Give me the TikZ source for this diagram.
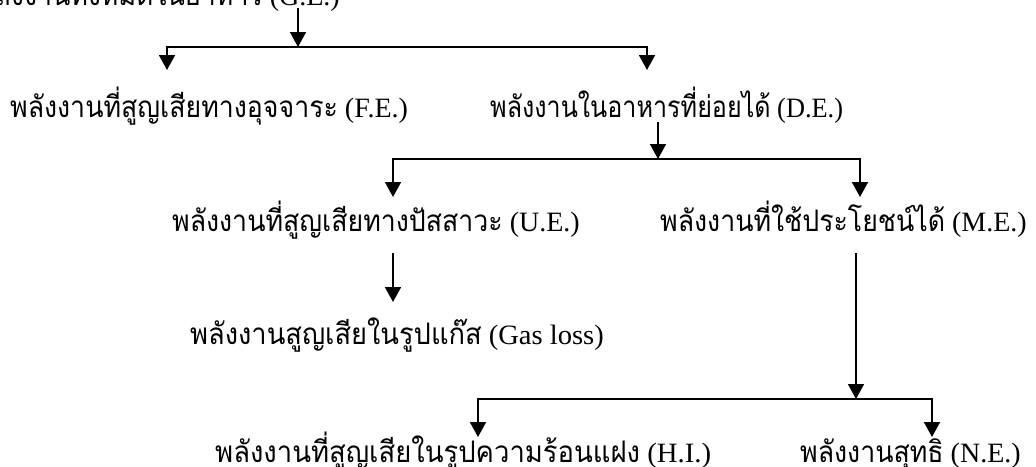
\documentclass[tikz,border=0pt]{standalone}
\usepackage{fontspec}
\setmainfont{Liberation Serif}
\newfontfamily\thaifont[Script=Thai,Scale=1.06,FakeStretch=0.9]{Loma}
\usetikzlibrary{arrows.meta}
\newcommand{\thx}[1]{{\thaifont #1}}
\tikzset{
  lbl/.style={inner sep=0pt, font=\fontsize{28}{32}\selectfont},
  conn/.style={line width=1.8pt, -{Triangle[width=16pt,length=15pt]}},
  plain/.style={line width=1.8pt}
}
\begin{document}
\begin{tikzpicture}[x=1pt,y=-1pt]
\useasboundingbox (0,0) rectangle (1036,466);
\node[lbl, anchor=base east] (GE) at (340,5) {\thx{พลังงานทั้งหมดในอาหาร} (G.E.)};
\node[lbl, anchor=base west] (FE) at (10,117) {\thx{พลังงานที่สูญเสียทางอุจจาระ} (F.E.)};
\node[lbl, anchor=base west] (DE) at (490,117) {\scalebox{0.94}[1]{\thx{พลังงานในอาหารที่ย่อยได้} (D.E.)}};
\node[lbl, anchor=base west] (UE) at (172,231) {\thx{พลังงานที่สูญเสียทางปัสสาวะ} (U.E.)};
\node[lbl, anchor=base west] (ME) at (660,231) {\thx{พลังงานที่ใช้ประโยชน์ได้} (M.E.)};
\node[lbl, anchor=base west] (GL) at (190,344) {\scalebox{1.02}[1]{\thx{พลังงานสูญเสียในรูปแก๊ส} (Gas loss)}};
\node[lbl, anchor=base west] (HI) at (215,462) {\scalebox{1.027}[1]{\thx{พลังงานที่สูญเสียในรูปความร้อนแฝง} (H.I.)}};
\node[lbl, anchor=base west] (NE) at (800,462) {\thx{พลังงานสุทธิ} (N.E.)};
% junctions and arrow tips
\coordinate (g0) at (298,8);
\coordinate (j1) at (298,47);
\coordinate (tFE) at (167,70);
\coordinate (tDE) at (647,70);
\coordinate (d0) at (658,122);
\coordinate (j2) at (658,159);
\coordinate (tUE) at (393,197);
\coordinate (tME) at (860,197);
\coordinate (u0) at (393,253);
\coordinate (tGL) at (393,302);
\coordinate (m0) at (856,253);
\coordinate (j3) at (856,399);
\coordinate (tHI) at (478,437);
\coordinate (tNE) at (932,437);
\draw[conn] (g0) -- (j1);
\draw[conn] (j1) -| (tFE);
\draw[conn] (j1) -| (tDE);
\draw[conn] (d0) -- (j2);
\draw[conn] (j2) -| (tUE);
\draw[conn] (j2) -| (tME);
\draw[conn] (u0) -- (tGL);
\draw[conn] (m0) -- (j3);
\draw[conn] (j3) -| (tHI);
\draw[conn] (j3) -| (tNE);
\end{tikzpicture}
\end{document}
